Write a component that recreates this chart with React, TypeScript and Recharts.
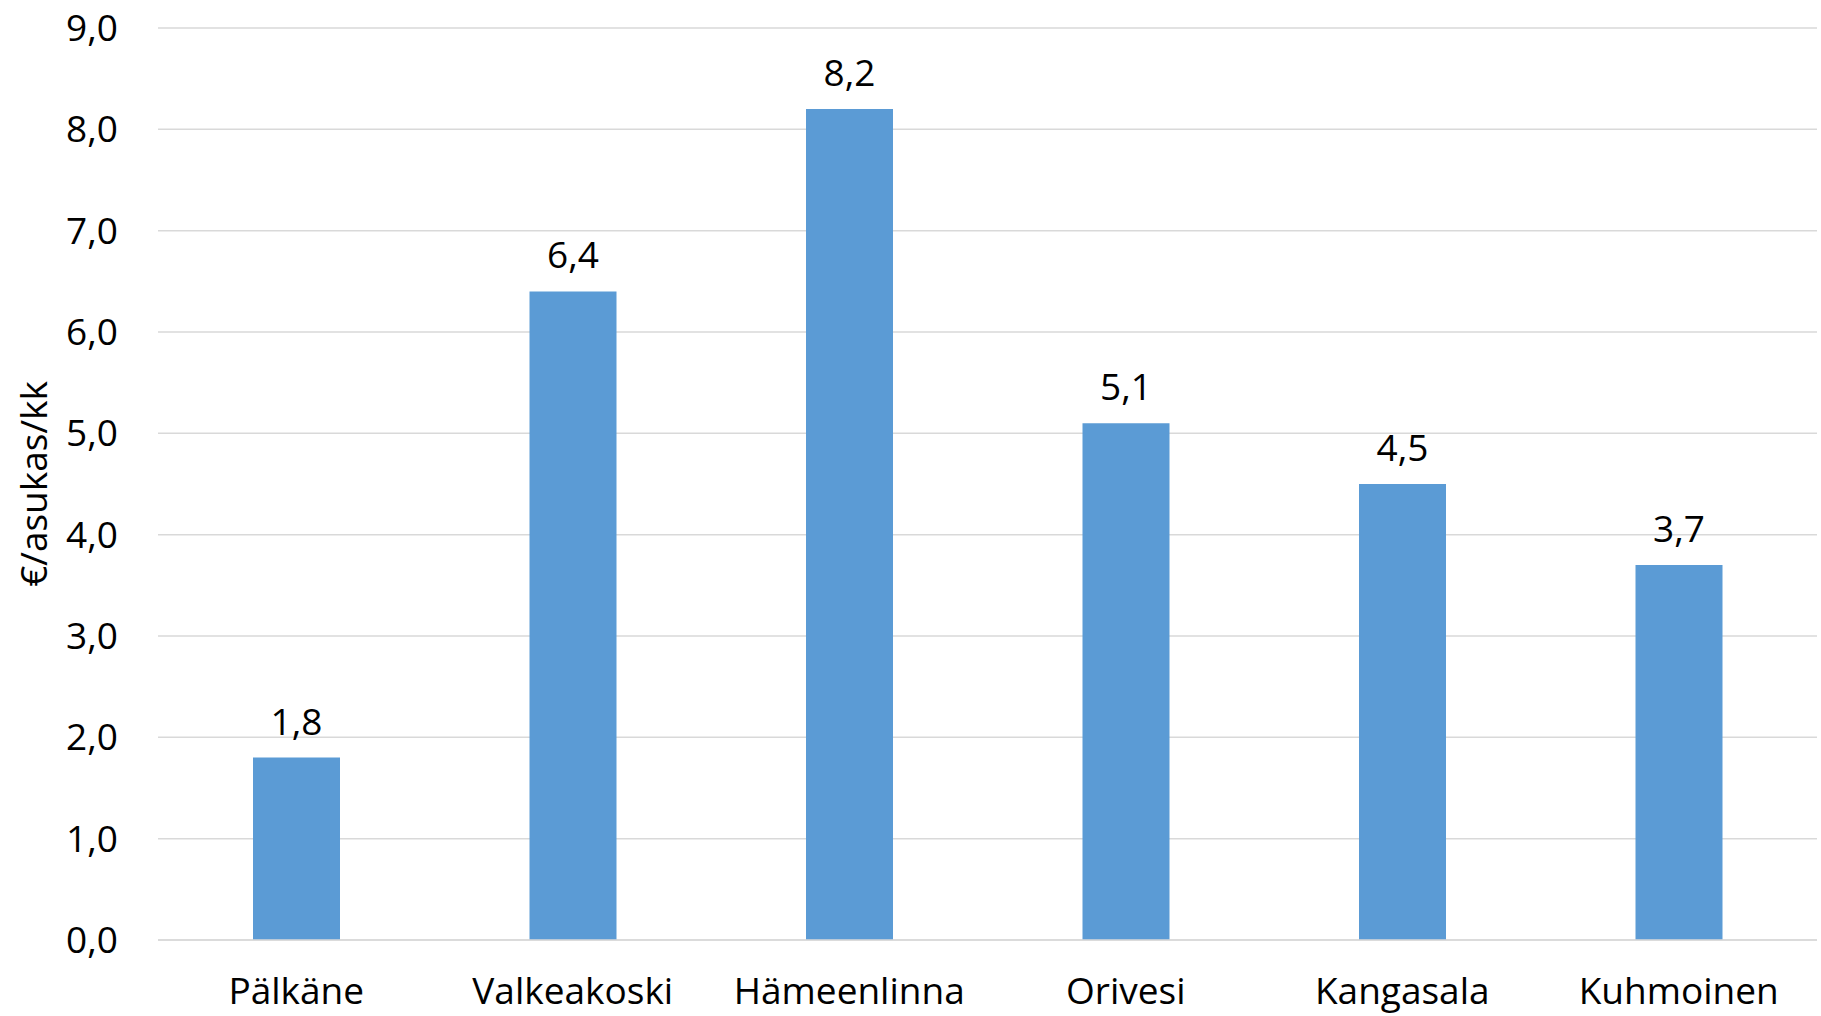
import { Bar, BarChart, CartesianGrid, LabelList, XAxis, YAxis } from 'recharts';

const municipalities = ['Pälkäne', 'Valkeakoski', 'Hämeenlinna', 'Orivesi', 'Kangasala', 'Kuhmoinen'];
const costs = [1.8, 6.4, 8.2, 5.1, 4.5, 3.7];
const yTicks = [0, 1, 2, 3, 4, 5, 6, 7, 8, 9];

const data = municipalities.map((name, i) => ({ name, value: costs[i] }));

const fmt = (v: number) => v.toFixed(1).replace('.', ',');
const font = "'Open Sans', sans-serif";

export default function App() {
  return (
    <div style={{ position: 'absolute', left: 0, top: 0, fontFamily: font }}>
      <BarChart
        width={1821}
        height={1016}
        data={data}
        margin={{ top: 28, right: 4, left: 0, bottom: 0 }}>
        <CartesianGrid vertical={false} stroke='#D9D9D9' strokeWidth={1.5} />
        <XAxis
          dataKey='name'
          height={76}
          axisLine={{ stroke: '#D9D9D9', strokeWidth: 1.5 }}
          tickLine={false}
          tickSize={0}
          tickMargin={38}
          tick={{ fill: '#000', fontSize: 37, fontFamily: font }}
        />
        <YAxis
          width={158}
          domain={[0, 9]}
          ticks={yTicks}
          tickFormatter={fmt}
          axisLine={false}
          tickLine={false}
          tickSize={0}
          tickMargin={40}
          tick={{ fill: '#000', fontSize: 37, fontFamily: font }}
          label={{
            content: () => (
              <text
                x={32}
                y={484}
                transform='rotate(-90 32 484)'
                textAnchor='middle'
                dominantBaseline='central'
                fill='#000'
                fontSize={37}
                fontFamily={font}>
                €/asukas/kk
              </text>
            )
          }}
        />
        <Bar dataKey='value' fill='#5B9BD5' barSize={87} isAnimationActive={false}>
          <LabelList
            dataKey='value'
            position='top'
            offset={23}
            formatter={(v: any) => fmt(Number(v))}
            style={{ fill: '#000', fontSize: 37, fontFamily: font }}
          />
        </Bar>
      </BarChart>
    </div>
  );
}
